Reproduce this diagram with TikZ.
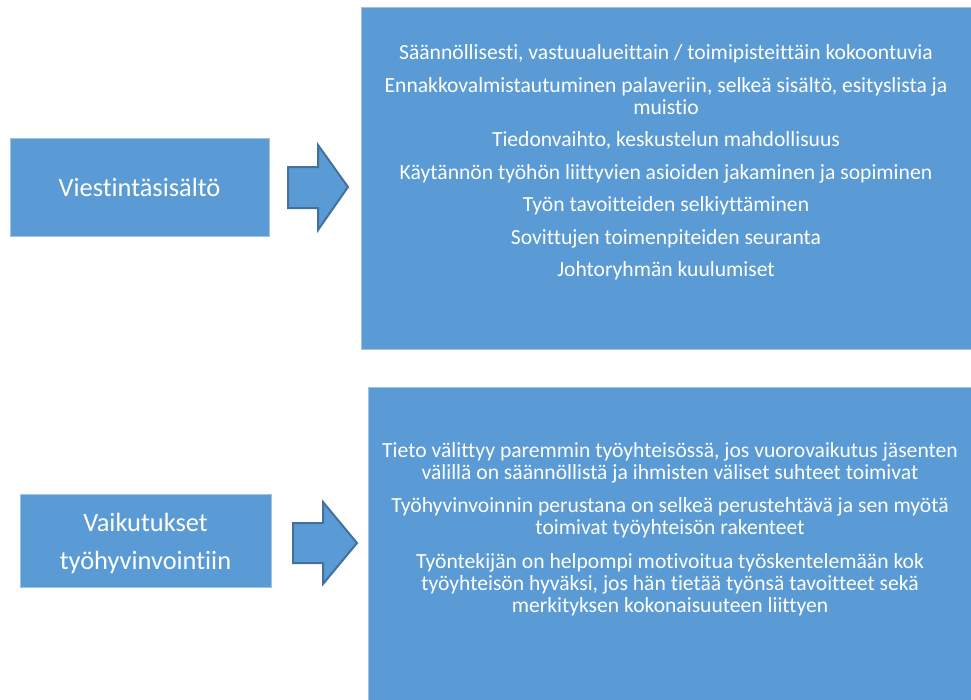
\documentclass[tikz,border=0pt]{standalone}
\usepackage{fontspec}
\setmainfont{Carlito}[Ligatures=NoCommon]
\usetikzlibrary{positioning}
\definecolor{boxblue}{RGB}{91,155,213}
\definecolor{edgeblue}{RGB}{65,113,156}
\definecolor{rimblue}{RGB}{157,195,230}

\tikzset{
  headbox/.style={fill=boxblue,draw=rimblue,line width=0.6pt,text=white,align=center,inner sep=0pt,
    font=\fontsize{26.4}{38}\selectfont},
  headtext/.style={text=white,align=center,inner sep=0pt,font=\fontsize{26.4}{38}\selectfont},
  listbox/.style={fill=boxblue,draw=rimblue,line width=0.6pt,anchor=north west,inner sep=0pt},
  listtext/.style={text=white,align=center,inner sep=0pt,font=\fontsize{21.6}{22}\selectfont},
  blockarrow/.style={fill=boxblue,draw=edgeblue,line width=2pt,line join=miter}
}

\begin{document}
\begin{tikzpicture}[x=1pt,y=-1pt]
  \useasboundingbox (0,0) rectangle (971,699);

  % upper row
  \node[headbox,minimum width=259pt,minimum height=98pt] (viesti) at (139.5,187) {Viestintäsisältö};
  \node[listbox,minimum width=610pt,minimum height=342pt] (sisalto) at (361,7) {};
  \node[listtext,anchor=north] (sisaltoteksti) at (666,44.5) {%
    Säännöllisesti, vastuualueittain / toimipisteittäin kokoontuvia\\[10.5pt]
    Ennakkovalmistautuminen palaveriin, selkeä sisältö, esityslista ja\\
    muistio\\[10.5pt]
    Tiedonvaihto, keskustelun mahdollisuus\\[10.5pt]
    Käytännön työhön liittyvien asioiden jakaminen ja sopiminen\\[10.5pt]
    Työn tavoitteiden selkiyttäminen\\[10.5pt]
    Sovittujen toimenpiteiden seuranta\\[10.5pt]
    Johtoryhmän kuulumiset};
  \draw[blockarrow] (288,167) -- (318,167) -- (318,145) -- (348,187)
    -- (318,230) -- (318,208) -- (288,208) -- cycle;

  % lower row
  \node[headbox,minimum width=251pt,minimum height=93pt] (vaikutus) at (145.5,540.5) {};
  \node[headtext] (vaikutusotsikko) at ([yshift=-3pt]vaikutus.center) {Vaikutukset\\työhyvinvointiin};
  \node[listbox,minimum width=603pt,minimum height=313pt] (vaikutuslista) at (368,387) {};
  \node[listtext,anchor=north] (vaikutusteksti) at (670,442) {%
    Tieto välittyy paremmin työyhteisössä, jos vuorovaikutus jäsenten\\
    välillä on säännöllistä ja ihmisten väliset suhteet toimivat\\[11.5pt]
    Työhyvinvoinnin perustana on selkeä perustehtävä ja sen myötä\\
    toimivat työyhteisön rakenteet\\[11.5pt]
    Työntekijän on helpompi motivoitua työskentelemään kok\\
    työyhteisön hyväksi, jos hän tietää työnsä tavoitteet sekä\\
    merkityksen kokonaisuuteen liittyen};
  \draw[blockarrow] (293,523) -- (323,523) -- (323,502) -- (357,543)
    -- (323,584) -- (323,563) -- (293,563) -- cycle;
\end{tikzpicture}
\end{document}
